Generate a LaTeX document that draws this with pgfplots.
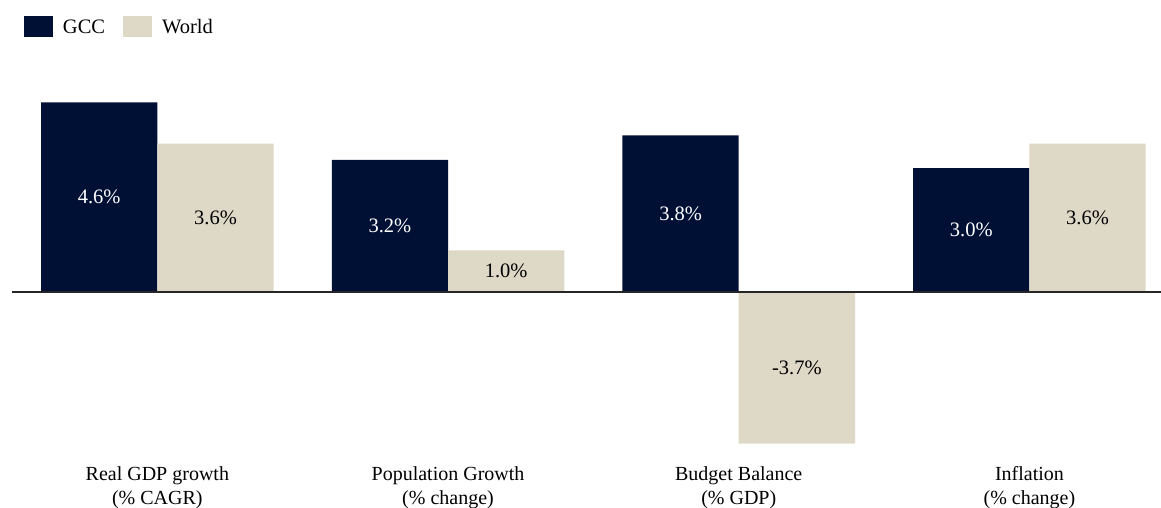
\documentclass[border=0pt]{standalone}
\usepackage{pgfplots}
\pgfplotsset{compat=1.18}
\usepackage{pgfplotstable}
\usepackage{fontspec}
\setmainfont{Liberation Serif}

\definecolor{gccnavy}{HTML}{001035}
\definecolor{worldbeige}{HTML}{DED8C6}

% GCC vs world, 4 indicators
\pgfplotstableread{
x gcc world
0 4.6 3.6
1 3.2 1.0
2 3.8 -3.7
3 3.0 3.6
}\indicators

\begin{document}
\begin{tikzpicture}
\begin{axis}[
  at={(12pt,46pt)}, anchor=south west,
  scale only axis,
  width=1149pt, height=452pt,
  xmin=-0.5, xmax=3.4525,
  ymin=-4.148, ymax=6.849,
  ybar,
  legend image code/.code={\fill[#1,draw=none] (0pt,-10.5pt) rectangle (29pt,10.5pt);},
  axis line style={draw=none},
  major tick length=0pt,
  ytick=\empty,
  xtick={0,1,2,3},
  xticklabels={{Real GDP growth\\(\% CAGR)},{Population Growth\\(\% change)},{Budget Balance\\(\% GDP)},{Inflation\\(\% change)}},
  xticklabel style={align=center, inner sep=0pt, font=\fontsize{20}{24}\selectfont, yshift=-4pt},
  legend style={draw=none, fill=none, inner sep=0pt, outer sep=0pt,
    at={(0,1)}, anchor=north west, xshift=12pt, yshift=-6.5pt,
    legend columns=2, font=\fontsize{20.5}{24}\selectfont,
    nodes={inner sep=0pt},
    /tikz/every odd column/.append style={column sep=10pt},
    /tikz/every even column/.append style={column sep=18pt}},
  visualization depends on={y \as \rawy},
]
\addplot[fill=gccnavy, draw=none, bar width=0.4, bar shift=-0.2,
  nodes near coords={\pgfmathprintnumber[fixed,fixed zerofill,precision=1,assume math mode=true]{\pgfplotspointmeta}\%},
  every node near coord/.append style={anchor=center, text=white, font=\fontsize{20.5}{24}\selectfont, yshift=-\rawy*20.55pt}]
  table[x=x, y=gcc] {\indicators};
\addlegendentry{GCC}
\addplot[fill=worldbeige, draw=none, bar width=0.4, bar shift=0.2,
  nodes near coords={\pgfmathprintnumber[fixed,fixed zerofill,precision=1,assume math mode=true]{\pgfplotspointmeta}\%},
  every node near coord/.append style={anchor=center, text=black, font=\fontsize{20.5}{24}\selectfont, yshift=-\rawy*20.55pt}]
  table[x=x, y=world] {\indicators};
\addlegendentry{World}
\addplot[sharp plot, black!85, line width=2pt, forget plot] coordinates {(-0.5,0) (3.4525,0)};
\end{axis}
\pgfresetboundingbox
\path[use as bounding box] (0,0) rectangle (1161pt,508pt);
\end{tikzpicture}
\end{document}
